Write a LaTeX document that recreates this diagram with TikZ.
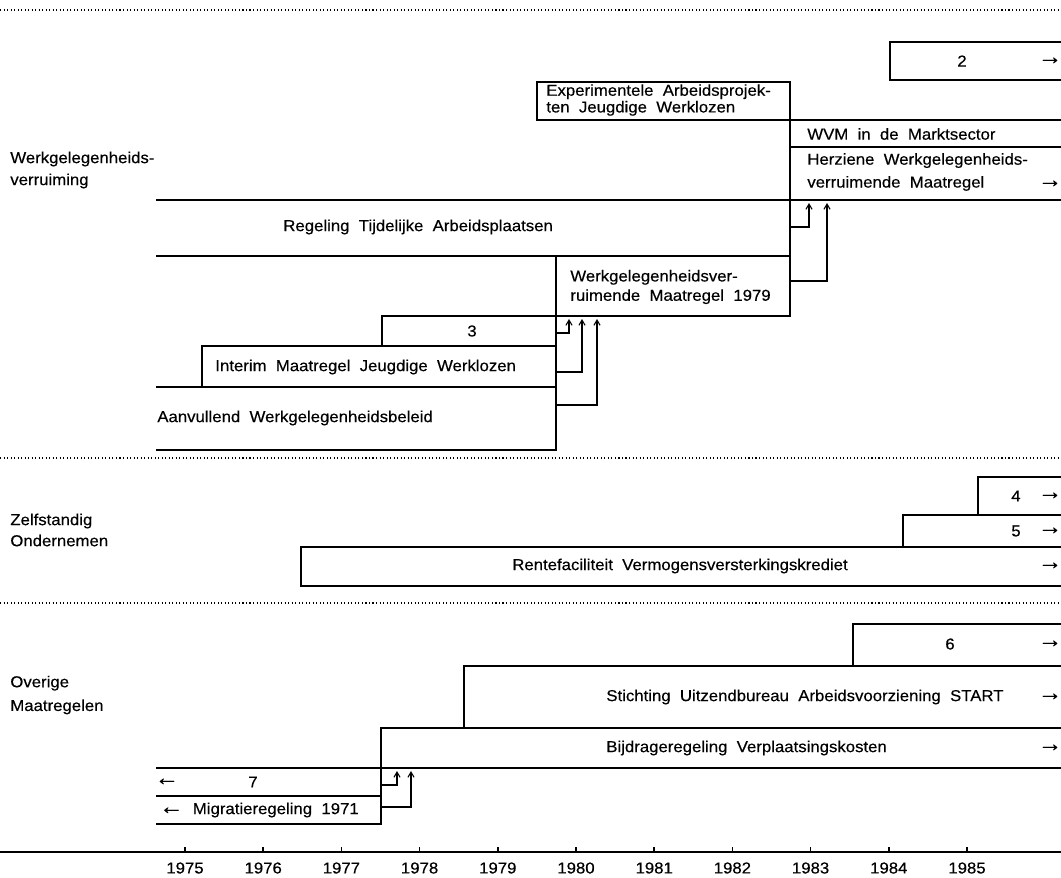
\documentclass[tikz,border=0pt]{standalone}
\usepackage{fontspec}
\setmainfont{Liberation Sans}[FakeStretch=1.06, WordSpace=2, FakeBold=0.35]
\usepackage{tikz}
\usetikzlibrary{positioning, arrows.meta}
\tikzset{
    barline/.style={
        line width=1.2pt, line cap=rect
    },
    edgeline/.style={
        line width=0.9pt
    },
    bartext/.style={
        font=\fontsize{9}{10}\selectfont, inner sep=0pt, anchor=west
    },
    numtext/.style={
        font=\fontsize{9}{10}\selectfont, inner sep=0pt
    },
    linkptr/.style={
        ->, >={Straight Barb[length=3pt, width=3.5pt]}, line width=0.6pt
    },
    sepline/.style={
        line width=0.6pt, dash pattern=on 0.6pt off 1.4pt
    }
}
\newcommand{\backarr}{{\fontsize{13}{10}\selectfont ←}}

\begin{document}
\begin{tikzpicture}[
            x=0.02cm, y=-0.02cm,
            % tekst over twee regels
            twoline/.style={
                bartext, align=left, font=\fontsize{9}{#1}\selectfont
            },
            twoline/.default=12.5,
            % pijl rechts: loopt door
            goon/.style={
                numtext, font=\fontsize{13}{10}\selectfont
            }
        ]
            \useasboundingbox (0,0) rectangle (1061,877);

            % --- 1. SCHEIDINGSLIJNEN ---
            \draw[sepline] (0,10) -- (1061,10);
            \draw[sepline] (0,458) -- (1061,458);
            \draw[sepline] (0,603) -- (1061,603);

            % --- 2. GROEPEN ---
            \node[twoline] (werk) at (10,170) {Werkgelegenheids-\\verruiming};
            \node[twoline=12] (zelf) at (10,530) {Zelfstandig\\Ondernemen};
            \node[twoline=13.5] (overig) at (10,695) {Overige\\Maatregelen};

            % --- 3. WERKGELEGENHEIDSVERRUIMING ---
            % balk 2
            \draw[barline] (1061,42) -- (890,42) -- (890,80) -- (1061,80);
            \node[numtext] (n2) at (962,61) {2};
            \node[goon] (n2-arr) at (1050,61) {→};

            % Experimentele Arbeidsprojekten
            \draw[barline] (790,82) -- (537,82) -- (537,120) -- (1061,120);
            \draw[edgeline] (790,82) -- (790,316);
            \node[twoline=9.5] (exp) at (546,100) {Experimentele Arbeidsprojek-\\ten Jeugdige Werklozen};

            % WVM en Herziene WVM
            \draw[barline] (790,147) -- (1061,147);
            \node[bartext] (wvm) at (807,134) {WVM in de Marktsector};
            \node[twoline=13] (herz) at (807,172) {Herziene Werkgelegenheids-\\verruimende Maatregel};
            \node[goon] (herz-arr) at (1050,184) {→};

            % Regeling Tijdelijke Arbeidsplaatsen
            \draw[barline] (157,200) -- (1061,200);
            \draw[barline] (157,256) -- (790,256);
            \node[bartext] (rta) at (283,227) {Regeling Tijdelijke Arbeidsplaatsen};

            % WVM 1979
            \draw[edgeline] (556,256) -- (556,450);
            \draw[barline] (382,316) -- (790,316);
            \node[twoline=11] (wvm79) at (570,287) {Werkgelegenheidsver-\\ruimende Maatregel 1979};

            % balk 3
            \draw[edgeline] (382,316) -- (382,346);
            \draw[barline] (202,346) -- (556,346);
            \node[numtext] (n3) at (472,331) {3};

            % Interim Maatregel
            \draw[edgeline] (202,346) -- (202,387);
            \draw[barline] (157,387) -- (556,387);
            \node[bartext] (imjw) at (215,367) {Interim Maatregel Jeugdige Werklozen};

            % Aanvullend Werkgelegenheidsbeleid
            \draw[barline] (157,450) -- (556,450);
            \node[bartext] (awb) at (157,418) {Aanvullend Werkgelegenheidsbeleid};

            % overgangen
            \coordinate (n3-out) at (556,333);
            \coordinate (imjw-out) at (556,372);
            \coordinate (awb-out) at (556,405);
            \coordinate (n3-in) at (569,319);
            \coordinate (imjw-in) at (582,319);
            \coordinate (awb-in) at (597,319);
            \draw[linkptr] (n3-out) -| (n3-in);
            \draw[linkptr] (imjw-out) -| (imjw-in);
            \draw[linkptr] (awb-out) -| (awb-in);

            \coordinate (rta-out) at (790,227);
            \coordinate (wvm79-out) at (790,281);
            \coordinate (rta-in) at (809,203);
            \coordinate (wvm79-in) at (827,203);
            \draw[linkptr] (rta-out) -| (rta-in);
            \draw[linkptr] (wvm79-out) -| (wvm79-in);

            % --- 4. ZELFSTANDIG ONDERNEMEN ---
            \draw[edgeline] (978,515) -- (978,477);
            \draw[barline] (978,477) -- (1061,477);
            \node[numtext] (n4) at (1016,496) {4};
            \node[goon] (n4-arr) at (1050,496) {→};

            \draw[edgeline] (903,547) -- (903,515);
            \draw[barline] (903,515) -- (1061,515);
            \node[numtext] (n5) at (1016,531) {5};
            \node[goon] (n5-arr) at (1050,531) {→};

            \draw[barline] (1061,547) -- (301,547) -- (301,586) -- (1061,586);
            \node[numtext] (rvk) at (680,566) {Rentefaciliteit Vermogensversterkingskrediet};
            \node[goon] (rvk-arr) at (1050,566) {→};

            % --- 5. OVERIGE MAATREGELEN ---
            \draw[edgeline] (853,666) -- (853,624);
            \draw[barline] (853,624) -- (1061,624);
            \node[numtext] (n6) at (950,644) {6};
            \node[goon] (n6-arr) at (1050,644) {→};

            \draw[edgeline] (464,728) -- (464,666);
            \draw[barline] (464,666) -- (1061,666);
            \node[bartext] (start) at (606,697) {Stichting Uitzendbureau Arbeidsvoorziening START};
            \node[goon] (start-arr) at (1050,697) {→};

            \draw[edgeline] (381,824) -- (381,728);
            \draw[barline] (381,728) -- (1061,728);
            \node[bartext] (bvk) at (606,748) {Bijdrageregeling Verplaatsingskosten};
            \node[goon] (bvk-arr) at (1050,748) {→};

            \draw[barline] (157,768) -- (1061,768);
            \node[goon] (n7-arr) at (167,782) {←};
            \node[numtext] (n7) at (253,782) {7};

            \draw[barline] (157,796) -- (381,796);
            \draw[barline] (157,824) -- (381,824);
            \node[bartext] (migr) at (159,810) {\backarr\ Migratieregeling 1971};

            \coordinate (n7-out) at (381,785);
            \coordinate (migr-out) at (381,807);
            \coordinate (n7-in) at (397,771);
            \coordinate (migr-in) at (411,771);
            \draw[linkptr] (n7-out) -| (n7-in);
            \draw[linkptr] (migr-out) -| (migr-in);

            % --- 6. TIJDAS ---
            \draw[barline] (0,852) -- (1061,852);
            \foreach \yr [count=\i from 0] in {1975,...,1985} {
                \draw[edgeline] ({185+78.2*\i},852) -- ++(0,-5);
                \node[numtext] (yr\yr) at ({185+78.2*\i},868) {\yr};
            }

        \end{tikzpicture}
\end{document}
